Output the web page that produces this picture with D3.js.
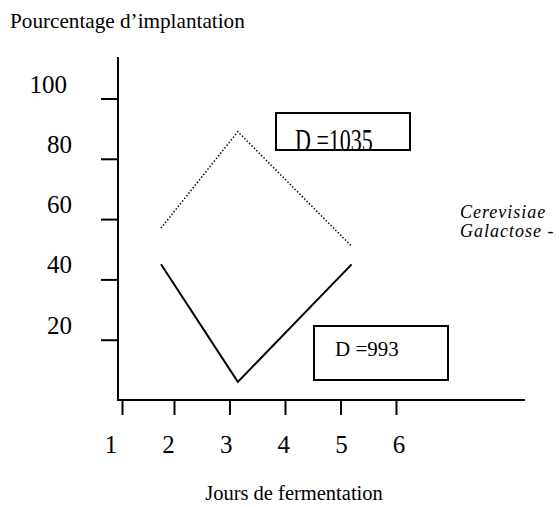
<!DOCTYPE html>
<html>
<head>
<meta charset="utf-8">
<script src="https://cdn.jsdelivr.net/npm/d3@7"></script>
<style>
  body { margin: 0; background: #fff; }
</style>
</head>
<body>
<div class="canvas"></div>
<script>

// donnees
const jours = [1.75, 3.15, 5.2];
const serieD1035 = [57, 89, 51];
const serieD993 = [45, 6, 45];
const yTicks = [20, 40, 60, 80, 100];
const xTicks = [1, 2, 3, 4, 5, 6];
const boxLabels = ['D =1035', 'D =993'];
const legendLabels = ['Cerevisiae', 'Galactose -'];

const dims = { height: 507, width: 559 };
const police = '"Liberation Serif", "Times New Roman", Times, serif';

const svg = d3.select('.canvas')
  .append('svg')
  .attr('width', dims.width)
  .attr('height', dims.height)
  .attr('font-family', police)
  .style('font-family', police);

// echelles (axe x dessine a la main : le 1 est decale)
const x = d3.scaleLinear().domain([1, 2, 6]).range([122, 174, 396]);
const xLabel = d3.scaleLinear().domain([1, 6]).range([111, 399]);
const y = d3.scaleLinear().domain([0, 100]).range([400, 98.5]);

const axeX = 118;

const texte = (sel) => sel.attr('font-family', police).style('font-family', police).attr('fill', '#000');

// titre
svg.append('text')
  .call(texte)
  .attr('x', 10)
  .attr('y', 28)
  .attr('font-size', 21.2)
  .text('Pourcentage d\u2019implantation');

// axe y
svg.append('line')
  .attr('x1', axeX).attr('x2', axeX)
  .attr('y1', 57).attr('y2', y(0))
  .attr('stroke', '#000').attr('stroke-width', 2);

svg.append('g')
  .attr('transform', `translate(${axeX},0)`)
  .call(d3.axisLeft(y).tickValues(yTicks).tickSize(17).tickFormat(''))
  .call(g => g.select('.domain').remove())
  .call(g => g.selectAll('line').attr('stroke', '#000').attr('stroke-width', 2));

svg.selectAll('.ylab')
  .data(yTicks)
  .enter().append('text')
  .attr('class', 'ylab')
  .call(texte)
  .attr('text-anchor', 'end')
  .attr('x', d => d === 100 ? 67 : 72)
  .attr('y', d => y(d) - 6)
  .attr('font-size', 25)
  .text(d => d);

// axe x
svg.append('line')
  .attr('x1', axeX - 1).attr('x2', 525)
  .attr('y1', y(0)).attr('y2', y(0))
  .attr('stroke', '#000').attr('stroke-width', 2);

svg.append('g')
  .attr('transform', `translate(0,${y(0)})`)
  .call(d3.axisBottom(x).tickValues(xTicks).tickSize(15).tickFormat(''))
  .call(g => g.select('.domain').remove())
  .call(g => g.selectAll('line').attr('stroke', '#000').attr('stroke-width', 2));

svg.selectAll('.xlab')
  .data(xTicks)
  .enter().append('text')
  .attr('class', 'xlab')
  .call(texte)
  .attr('text-anchor', 'middle')
  .attr('x', d => xLabel(d))
  .attr('y', 453)
  .attr('font-size', 25)
  .text(d => d);

svg.append('text')
  .call(texte)
  .attr('text-anchor', 'middle')
  .attr('x', 294)
  .attr('y', 500)
  .attr('font-size', 20.5)
  .text('Jours de fermentation');

// courbes
const line = d3.line()
  .x(d => x(d[0]))
  .y(d => y(d[1]));

svg.append('path')
  .datum(d3.zip(jours, serieD1035))
  .attr('d', line)
  .attr('fill', 'none')
  .attr('stroke', '#000')
  .attr('stroke-width', 1.5)
  .attr('stroke-dasharray', '1.4,2');

svg.append('path')
  .datum(d3.zip(jours, serieD993))
  .attr('d', line)
  .attr('fill', 'none')
  .attr('stroke', '#000')
  .attr('stroke-width', 2);

// cadres D = (le texte du premier est coupe par le bas du cadre)
const boxes = [
  { label: boxLabels[0], x: 276, y: 113, w: 134, h: 37, tx: 295, ty: 151, fs: 22, sy: 1.4 },
  { label: boxLabels[1], x: 314, y: 326, w: 134, h: 54, tx: 335, ty: 356, fs: 21, sy: 1 }
];

boxes.forEach((b, i) => {
  svg.append('clipPath')
    .attr('id', 'clip' + i)
    .append('rect')
    .attr('x', b.x + 1).attr('y', b.y + 1)
    .attr('width', b.w - 2).attr('height', b.h - 2);

  svg.append('rect')
    .attr('x', b.x).attr('y', b.y)
    .attr('width', b.w).attr('height', b.h)
    .attr('fill', '#fff')
    .attr('stroke', '#000')
    .attr('stroke-width', 2);

  svg.append('g')
    .attr('clip-path', `url(#clip${i})`)
    .append('text')
    .call(texte)
    .attr('transform', `translate(${b.tx},${b.ty}) scale(1,${b.sy})`)
    .attr('font-size', b.fs)
    .text(b.label);
});

// legende a droite (coupee par le bord)
svg.selectAll('.leg')
  .data(legendLabels)
  .enter().append('text')
  .attr('class', 'leg')
  .call(texte)
  .attr('x', 460)
  .attr('y', (d, i) => 218 + i * 19)
  .attr('font-size', 18)
  .attr('font-style', 'italic')
  .attr('letter-spacing', 1)
  .text(d => d);

</script>
</body>
</html>
